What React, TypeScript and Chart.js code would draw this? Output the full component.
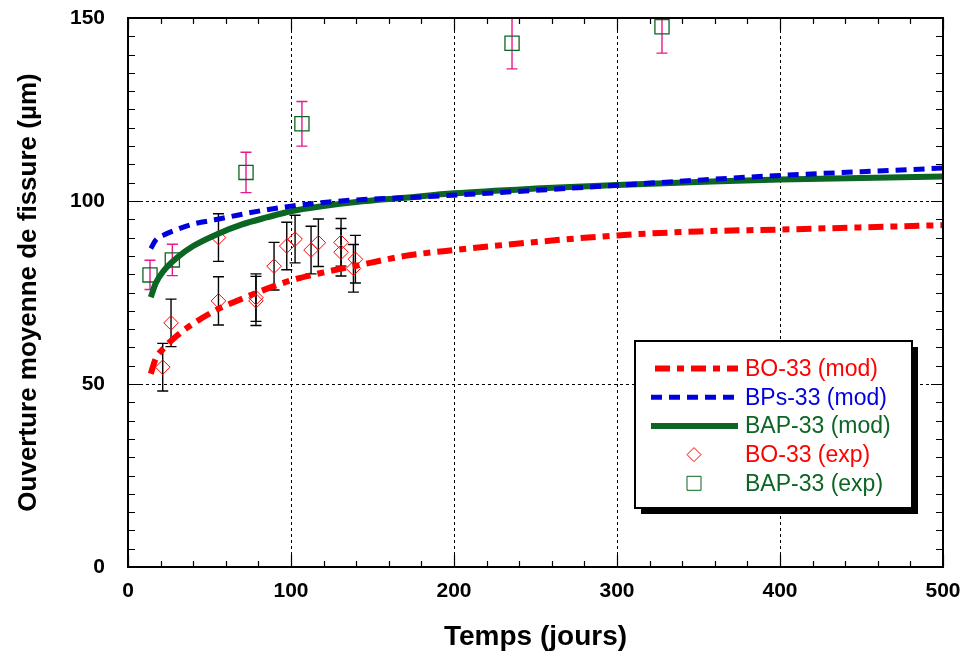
import React, { useEffect, useRef } from 'react';
import { Chart, registerables } from 'chart.js';

Chart.register(...registerables);

// ---- data ----
const modTimes = [14, 17, 22, 30, 40, 55, 70, 85, 100, 120, 140, 170, 200, 250, 300, 350, 400, 450, 500];
const boMod = [52.8, 56.9, 59.8, 63.2, 66.5, 70.4, 73.3, 76.0, 78.3, 80.5, 82.3, 85.0, 86.6, 88.8, 90.6, 91.7, 92.2, 92.8, 93.4];
const bpsMod = [87.0, 89.3, 90.7, 92.2, 93.7, 95.0, 96.4, 97.6, 98.6, 99.6, 100.3, 100.9, 101.6, 102.9, 104.3, 105.7, 107.0, 108.0, 109.0];
const bapMod = [73.7, 77.5, 81.0, 84.5, 87.7, 91.0, 93.6, 95.5, 97.2, 98.6, 99.7, 100.9, 102.1, 103.4, 104.4, 105.2, 105.9, 106.3, 106.7];

const boTimes = [21.3, 26.4, 55.5, 55.5, 78.5, 78.5, 89.6, 97.4, 102.5, 112.3, 116.8, 130.7, 130.7, 139.5, 138.3];
const boValues = [54.6, 66.7, 90.0, 72.7, 73.6, 72.7, 82.2, 87.7, 89.6, 86.6, 88.6, 88.7, 86.0, 84.1, 81.6];
const boErrors = [6.5, 6.5, 6.5, 6.6, 6.5, 6.7, 6.5, 6.5, 6.5, 6.5, 6.5, 6.5, 6.5, 6.5, 6.5];

const bapTimes = [13.5, 27.2, 72.4, 106.7, 235.6, 327.6];
const bapValues = [79.8, 83.9, 107.8, 121.1, 143.1, 147.6];
const bapErrors = [4.0, 4.3, 5.5, 6.1, 7.0, 7.2];

const seriesLabels = ['BO-33 (mod)', 'BPs-33 (mod)', 'BAP-33 (mod)', 'BO-33 (exp)', 'BAP-33 (exp)'];

const xTickValues = [0, 100, 200, 300, 400, 500];
const yTickValues = [0, 50, 100, 150];

const RED = '#ff0000';
const BLUE = '#0000dd';
const GREEN = '#0b6623';
const PINK = '#e8198b';
const FONT = "'Liberation Sans', Arial, Helvetica, sans-serif";

const pts = (xs: number[], ys: number[]) => xs.map((x, i) => ({ x, y: ys[i] }));

const gridErrPlugin = {
  id: 'gridErr',
  beforeDatasetsDraw(chart: any) {
    const { ctx, chartArea: a, scales } = chart;
    const xs = scales.x, ys = scales.y;
    ctx.save();
    ctx.beginPath();
    ctx.rect(a.left, a.top, a.right - a.left, a.bottom - a.top);
    ctx.clip();
    ctx.strokeStyle = '#000';
    ctx.lineWidth = 1;
    ctx.setLineDash([3, 3]);
    xTickValues.slice(1, -1).forEach((v) => {
      const px = Math.round(xs.getPixelForValue(v)) + 0.5;
      ctx.beginPath();
      ctx.moveTo(px, a.top);
      ctx.lineTo(px, a.bottom);
      ctx.stroke();
    });
    yTickValues.slice(1, -1).forEach((v) => {
      const py = Math.round(ys.getPixelForValue(v)) + 0.5;
      ctx.beginPath();
      ctx.moveTo(a.left, py);
      ctx.lineTo(a.right, py);
      ctx.stroke();
    });
    ctx.setLineDash([]);
    const drawBars = (xv: number[], yv: number[], ev: number[], color: string) => {
      ctx.strokeStyle = color;
      ctx.lineWidth = 1.4;
      xv.forEach((x, i) => {
        const px = xs.getPixelForValue(x);
        const top = ys.getPixelForValue(yv[i] + ev[i]);
        const bot = ys.getPixelForValue(yv[i] - ev[i]);
        ctx.beginPath();
        ctx.moveTo(px, top);
        ctx.lineTo(px, bot);
        ctx.moveTo(px - 5.5, top);
        ctx.lineTo(px + 5.5, top);
        ctx.moveTo(px - 5.5, bot);
        ctx.lineTo(px + 5.5, bot);
        ctx.stroke();
      });
    };
    drawBars(boTimes, boValues, boErrors, '#000');
    drawBars(bapTimes, bapValues, bapErrors, PINK);
    ctx.restore();
  },
  afterDatasetsDraw(chart: any) {
    const { ctx, chartArea: a, scales } = chart;
    const xs = scales.x, ys = scales.y;
    ctx.save();
    ctx.strokeStyle = '#000';
    ctx.lineWidth = 1.2;
    ctx.beginPath();
    for (let v = 0; v <= 500; v += 20) {
      const px = Math.round(xs.getPixelForValue(v)) + 0.5;
      const len = v % 100 === 0 ? 12 : 6;
      ctx.moveTo(px, a.bottom);
      ctx.lineTo(px, a.bottom - len);
      ctx.moveTo(px, a.top);
      ctx.lineTo(px, a.top + len);
    }
    for (let v = 0; v <= 150; v += 5) {
      const py = Math.round(ys.getPixelForValue(v)) + 0.5;
      const len = v % 50 === 0 ? 12 : 7;
      ctx.moveTo(a.left, py);
      ctx.lineTo(a.left + len, py);
      ctx.moveTo(a.right, py);
      ctx.lineTo(a.right - len, py);
    }
    ctx.stroke();
    ctx.lineWidth = 2;
    ctx.strokeRect(a.left, a.top, a.right - a.left, a.bottom - a.top);
    ctx.restore();
  },
  afterDraw(chart: any) {
    const { ctx } = chart;
    const L = 635, T = 341, W = 277, H = 167;
    ctx.save();
    ctx.fillStyle = '#000';
    ctx.fillRect(L + 6, T + 6, W, H);
    ctx.fillStyle = '#fff';
    ctx.fillRect(L, T, W, H);
    ctx.lineWidth = 2;
    ctx.strokeStyle = '#000';
    ctx.strokeRect(L, T, W, H);
    const dsets = chart.data.datasets;
    dsets.forEach((ds: any, i: number) => {
      const cy = T + 27.5 + i * 28.7;
      if (ds.showLine) {
        ctx.strokeStyle = ds.borderColor;
        ctx.lineWidth = ds.borderWidth;
        ctx.setLineDash(ds.borderDash || []);
        ctx.beginPath();
        ctx.moveTo(i === 0 ? 655 : 651, cy);
        ctx.lineTo(738, cy);
        ctx.stroke();
        ctx.setLineDash([]);
      } else {
        ctx.strokeStyle = ds.borderColor;
        ctx.lineWidth = 1;
        const cx = 694;
        ctx.beginPath();
        if (ds.pointStyle === 'rectRot') {
          ctx.moveTo(cx, cy - 7);
          ctx.lineTo(cx + 7, cy);
          ctx.lineTo(cx, cy + 7);
          ctx.lineTo(cx - 7, cy);
          ctx.closePath();
        } else {
          ctx.rect(cx - 7, cy - 7, 14, 14);
        }
        ctx.stroke();
      }
      ctx.fillStyle = ds.legendColor;
      ctx.font = `23px ${FONT}`;
      ctx.textBaseline = 'middle';
      ctx.textAlign = 'left';
      ctx.fillText(ds.label, 745, cy + 1);
    });
    ctx.restore();
  },
};

export default function App() {
  const ref = useRef<HTMLCanvasElement | null>(null);
  useEffect(() => {
    if (!ref.current) return;
    const chart = new Chart(ref.current, {
      type: 'scatter',
      data: {
        datasets: [
          {
            label: seriesLabels[0],
            data: pts(modTimes, boMod),
            showLine: true,
            borderColor: RED,
            borderWidth: 6,
            borderDash: [15, 7, 7, 7],
            pointRadius: 0,
            cubicInterpolationMode: 'monotone',
            legendColor: RED,
          } as any,
          {
            label: seriesLabels[1],
            data: pts(modTimes, bpsMod),
            showLine: true,
            borderColor: BLUE,
            borderWidth: 5,
            borderDash: [11, 7],
            pointRadius: 0,
            cubicInterpolationMode: 'monotone',
            legendColor: BLUE,
          } as any,
          {
            label: seriesLabels[2],
            data: pts(modTimes, bapMod),
            showLine: true,
            borderColor: GREEN,
            borderWidth: 6,
            pointRadius: 0,
            cubicInterpolationMode: 'monotone',
            legendColor: GREEN,
          } as any,
          {
            label: seriesLabels[3],
            data: pts(boTimes, boValues),
            showLine: false,
            pointStyle: 'rectRot',
            pointRadius: 7.3,
            borderColor: RED,
            borderWidth: 1,
            backgroundColor: 'rgba(0,0,0,0)',
            legendColor: RED,
          } as any,
          {
            label: seriesLabels[4],
            data: pts(bapTimes, bapValues),
            showLine: false,
            pointStyle: 'rect',
            pointRadius: 10,
            borderColor: GREEN,
            borderWidth: 1.3,
            backgroundColor: 'rgba(0,0,0,0)',
            legendColor: GREEN,
          } as any,
        ],
      },
      options: {
        responsive: false,
        animation: false,
        layout: { padding: { left: 0, right: 24, top: 18, bottom: 0 } },
        plugins: { legend: { display: false }, tooltip: { enabled: false } },
        scales: {
          x: {
            type: 'linear',
            min: 0,
            max: 500,
            afterBuildTicks: (s: any) => {
              s.ticks = xTickValues.map((v) => ({ value: v }));
            },
            afterFit: (s: any) => {
              s.height = 93;
              s.paddingLeft = 0;
              s.paddingRight = 0;
            },
            ticks: {
              color: '#000',
              padding: 12,
              font: { family: FONT, size: 21, weight: 'bold' },
            },
            grid: { display: false, drawTicks: false },
            border: { display: false },
            title: {
              display: true,
              text: 'Temps (jours)',
              color: '#000',
              font: { family: FONT, size: 28, weight: 'bold' },
              padding: { top: 0, bottom: 6 },
            },
          },
          y: {
            type: 'linear',
            min: 0,
            max: 150,
            afterBuildTicks: (s: any) => {
              s.ticks = yTickValues.map((v) => ({ value: v }));
            },
            afterFit: (s: any) => {
              s.width = 128;
              s.paddingTop = 0;
              s.paddingBottom = 0;
            },
            ticks: {
              color: '#000',
              padding: 23,
              font: { family: FONT, size: 21, weight: 'bold' },
            },
            grid: { display: false, drawTicks: false },
            border: { display: false },
            title: {
              display: true,
              text: 'Ouverture moyenne de fissure (µm)',
              color: '#000',
              font: { family: FONT, size: 26, weight: 'bold' },
              padding: { top: 13, bottom: 0 },
            },
          },
        },
      } as any,
      plugins: [gridErrPlugin],
    });
    return () => chart.destroy();
  }, []);
  return (
    <div style={{ position: 'absolute', left: 0, top: 0, width: 967, height: 660, background: '#fff' }}>
      <canvas ref={ref} width={967} height={660} style={{ display: 'block' }} />
    </div>
  );
}
